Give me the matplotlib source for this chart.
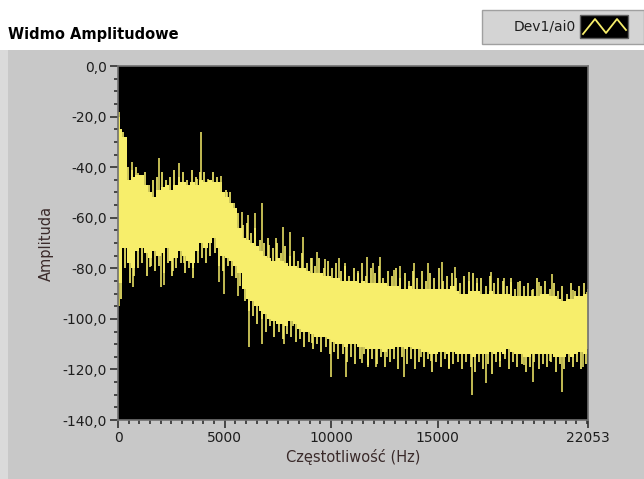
import numpy as np
import matplotlib.pyplot as plt
from matplotlib.patches import Rectangle
from matplotlib.ticker import FixedLocator, MultipleLocator, FuncFormatter

# spectrum: solid band per 200 Hz bin (dB)
bin_step = 200
band_top = [-25, -28, -45, -44, -43, -43, -47, -50, -52, -49,
            -48, -47, -49, -47, -46, -46, -47, -46, -47, -45,
            -46, -45, -46, -46, -50, -52, -54, -56, -64, -68,
            -69, -70, -71, -73, -75, -76, -77, -76, -77, -78,
            -79, -79, -80, -80, -81, -82, -82, -82, -83, -83,
            -84, -84, -85, -85, -85, -85, -86, -85, -86, -86,
            -86, -86, -86, -87, -87, -87, -88, -88, -87, -88,
            -88, -88, -88, -88, -88, -88, -88, -88, -87, -89,
            -90, -90, -89, -89, -89, -90, -90, -89, -90, -90,
            -90, -90, -91, -91, -91, -91, -91, -91, -91, -90,
            -90, -91, -91, -92, -93, -92, -92, -91, -91, -90, -90]
band_bottom = [-86, -72, -78, -80, -73, -72, -74, -76, -73, -75,
               -74, -72, -77, -76, -73, -75, -77, -78, -73, -70,
               -72, -70, -68, -72, -75, -76, -77, -79, -82, -88,
               -92, -93, -95, -97, -98, -100, -101, -102, -102, -103,
               -101, -102, -104, -105, -105, -106, -107, -107, -107, -108,
               -109, -110, -110, -111, -110, -110, -111, -111, -112, -112,
               -112, -112, -113, -112, -112, -111, -111, -112, -111, -112,
               -112, -113, -113, -114, -114, -113, -113, -114, -113, -114,
               -114, -114, -114, -115, -114, -114, -114, -113, -114, -113,
               -114, -112, -113, -114, -114, -115, -115, -114, -114, -114,
               -114, -114, -115, -115, -115, -114, -115, -114, -113, -114, -112]

# ragged edge of the band, one value per bin (dB)
fringe_top = [-20, -26, -40, -41, -40, -44, -42, -47, -45, -44,
              -42, -45, -44, -41, -44, -42, -45, -41, -44, -42,
              -42, -45, -42, -44, -46, -49, -50, -54, -58, -63,
              -62, -66, -64, -69, -70, -68, -72, -70, -74, -71,
              -75, -73, -77, -74, -78, -76, -79, -76, -80, -77,
              -80, -78, -81, -79, -83, -80, -82, -78, -83, -80,
              -82, -79, -84, -81, -83, -80, -84, -82, -85, -81,
              -84, -81, -85, -82, -84, -80, -85, -83, -82, -84,
              -86, -83, -85, -82, -86, -84, -87, -83, -86, -84,
              -85, -87, -84, -88, -85, -87, -86, -88, -84, -87,
              -85, -88, -86, -89, -87, -90, -86, -89, -87, -86, -88]
fringe_bottom = [-92, -80, -86, -83, -80, -78, -83, -79, -81, -79,
                 -82, -78, -83, -80, -78, -82, -80, -84, -78, -76,
                 -78, -75, -74, -79, -81, -79, -83, -84, -87, -93,
                 -97, -99, -102, -100, -105, -103, -107, -105, -108, -106,
                 -107, -109, -108, -111, -109, -112, -110, -113, -111, -114,
                 -113, -116, -114, -117, -115, -118, -116, -114, -119, -116,
                 -118, -115, -119, -117, -116, -120, -115, -118, -116, -120,
                 -117, -119, -116, -121, -117, -119, -116, -120, -118, -117,
                 -120, -117, -119, -121, -117, -120, -118, -122, -117, -119,
                 -116, -120, -117, -119, -118, -121, -119, -117, -120, -118,
                 -119, -117, -121, -118, -120, -117, -119, -117, -120, -118, -116]

# single spikes sticking out of the band (Hz, dB)
peaks_hz = [40, 643, 955, 1940, 2880, 3690, 3900, 4210, 4820, 5100,
            5810, 6090, 6430, 6750, 7090, 7400, 7760, 8080, 8700, 9090,
            9360, 9720, 10390, 10660, 11280, 11680, 11960, 12300, 12930, 13240,
            13900, 14540, 15200, 15820, 16480, 16840, 17510, 18120, 18440, 18750,
            19420, 19740, 20360, 21350, 22000]
peaks_db = [-18, -38, -42.5, -36.5, -38.5, -44.5, -26, -44.5, -43.5, -50,
            -57.6, -59, -58.2, -54.3, -70.8, -68, -63.5, -65.5, -67.5, -76,
            -73.5, -76.5, -76, -78, -81, -75.4, -78, -75.4, -80.7, -79,
            -78, -78, -77.6, -79.3, -81.6, -84, -81.6, -84, -85.3, -85.3,
            -88.6, -85.3, -82.3, -88.6, -89.4]
dips_hz = [40, 720, 1500, 2000, 2160, 2600, 3110, 3540, 4760, 4980,
           5650, 6170, 6780, 7220, 7800, 8230, 9090, 10000, 10700, 11440,
           11720, 12110, 12640, 13440, 14230, 14700, 15510, 16610, 17260, 17930,
           19030, 19470, 20280, 20830, 21820]
dips_db = [-94.8, -87.3, -79.4, -87.3, -86.6, -81, -78, -80, -85.5, -90,
           -91, -111, -110, -99.5, -110, -102.8, -109.5, -123, -123, -117.6,
           -118.4, -119, -115, -123, -115, -116.5, -119.5, -130, -125.5, -116.5,
           -118.4, -125, -116.5, -129, -119]

x_max = 22053
x_ticks = [0, 5000, 10000, 15000, 22053]

yellow = '#f7ee6b'
panel = '#c8c8c8'
txt = '#1e1e1e'

fig = plt.figure(figsize=(6.44, 4.79), dpi=100)
fig.patch.set_facecolor('white')

# gray panel of the graph and the lighter left strip (behind the axes)
fig.add_artist(Rectangle((0, 0), 1, 1 - 50 / 479, transform=fig.transFigure,
                         facecolor=panel, edgecolor='none', zorder=-10))
fig.add_artist(Rectangle((0, 0), 8 / 644, 1 - 50 / 479, transform=fig.transFigure,
                         facecolor='#dadada', edgecolor='none', zorder=-9))

ax = fig.add_axes([118 / 644, 1 - 420 / 479, 470 / 644, 354 / 479])
ax.set_facecolor('black')

edges = np.arange(len(band_top) + 1) * bin_step
edges[-1] = x_max
top = np.append(band_top, band_top[-1])
bot = np.append(band_bottom, band_bottom[-1])
ax.fill_between(edges, bot, top, step='post', color=yellow, lw=0)

centers = np.arange(len(band_top)) * bin_step + bin_step / 2
ax.vlines(centers - 50, band_top, fringe_top, color=yellow, lw=1.2)
ax.vlines(centers + 40, fringe_bottom, band_bottom, color=yellow, lw=1.2)

mid = (np.array(band_top) + np.array(band_bottom)) / 2
ax.vlines(peaks_hz, np.interp(peaks_hz, centers, mid), peaks_db, color=yellow, lw=1.1)
ax.vlines(dips_hz, dips_db, np.interp(dips_hz, centers, mid), color=yellow, lw=1.1)

ax.set_xlim(0, x_max)
ax.set_ylim(-140, 0)
ax.xaxis.set_major_locator(FixedLocator(x_ticks))
ax.xaxis.set_minor_locator(MultipleLocator(500))
ax.yaxis.set_major_locator(MultipleLocator(20))
ax.yaxis.set_minor_locator(MultipleLocator(5))
ax.yaxis.set_major_formatter(FuncFormatter(lambda v, p: ('%.1f' % abs(v) if v == 0 else '%.1f' % v).replace('.', ',')))
ax.tick_params(which='major', length=6, width=1.2, color='#303030', labelsize=10, labelcolor=txt, pad=2)
ax.tick_params(which='minor', length=3, width=1.2, color='#303030')
for s in ax.spines.values():
    s.set_color('#707070')
    s.set_linewidth(1.2)

ax.set_ylabel('Amplituda', fontsize=10.5, color='#3a2a2a', labelpad=6)
ax.set_xlabel('Częstotliwość (Hz)', fontsize=10.5, color='#3a2a2a', labelpad=3)

fig.text(8 / 644, 1 - 35 / 479, 'Widmo Amplitudowe', fontsize=10.5, fontweight='bold',
         color='black', va='center', ha='left')

# plot legend box at the top right
fig.add_artist(Rectangle((482 / 644, 1 - 44 / 479), 162 / 644, 34 / 479,
                         transform=fig.transFigure, facecolor='#d4d4d4',
                         edgecolor='#a0a0a0', lw=1, zorder=1))
fig.text(545 / 644, 1 - 26 / 479, 'Dev1/ai0', fontsize=10, color=txt,
         va='center', ha='center', zorder=2)
fig.add_artist(Rectangle((580 / 644, 1 - 38 / 479), 48 / 644, 23 / 479,
                         transform=fig.transFigure, facecolor='black',
                         edgecolor='#606060', lw=1, zorder=2))
zx = np.array([583, 595, 606, 617, 626]) / 644
zy = 1 - np.array([34, 19, 33, 19, 30]) / 479
fig.add_artist(plt.Line2D(zx, zy, color=yellow, lw=1.3, transform=fig.transFigure, zorder=3))

fig.savefig('out.png', dpi=100, facecolor=fig.get_facecolor())
